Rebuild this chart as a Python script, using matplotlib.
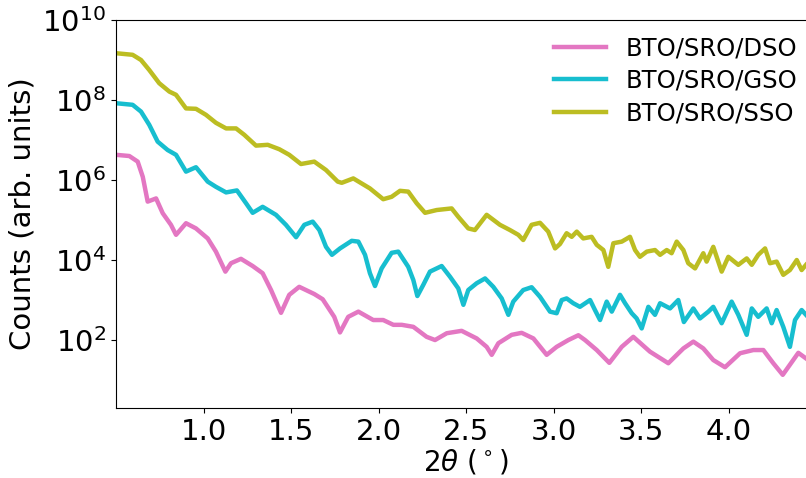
import matplotlib.pyplot as plt
import numpy as np

# 2theta (deg) and log10(counts) for each sample
x_dso = [0.500, 0.576, 0.624, 0.653, 0.681, 0.729, 0.767, 0.814, 0.843, 0.900, 0.957, 1.024,
         1.071, 1.125, 1.157, 1.214, 1.281, 1.338, 1.386, 1.443, 1.490, 1.547, 1.633, 1.681,
         1.747, 1.780, 1.827, 1.885, 1.970, 2.027, 2.085, 2.133, 2.199, 2.275, 2.323, 2.390,
         2.475, 2.561, 2.618, 2.647, 2.685, 2.761, 2.818, 2.885, 2.961, 3.018, 3.085, 3.142,
         3.180, 3.247, 3.319, 3.390, 3.456, 3.551, 3.656, 3.742, 3.799, 3.856, 3.913, 3.980,
         4.066, 4.142, 4.199, 4.256, 4.310, 4.399, 4.443]
e_dso = [6.63, 6.60, 6.46, 6.08, 5.46, 5.54, 5.17, 4.88, 4.63, 4.92, 4.79, 4.54,
         4.21, 3.71, 3.92, 4.03, 3.85, 3.67, 3.25, 2.68, 3.13, 3.33, 3.15, 3.02,
         2.58, 2.19, 2.58, 2.71, 2.50, 2.50, 2.38, 2.38, 2.33, 2.08, 2.00, 2.17,
         2.23, 2.04, 1.83, 1.63, 1.92, 2.13, 2.18, 2.04, 1.63, 1.83, 2.00, 2.12,
         2.00, 1.75, 1.43, 1.83, 2.08, 1.71, 1.42, 1.79, 1.96, 1.79, 1.50, 1.32,
         1.67, 1.75, 1.75, 1.42, 1.13, 1.68, 1.54]

x_gso = [0.500, 0.595, 0.643, 0.690, 0.738, 0.795, 0.843, 0.900, 0.957, 1.024, 1.071, 1.129,
         1.191, 1.243, 1.281, 1.338, 1.414, 1.471, 1.529, 1.576, 1.624, 1.662, 1.700, 1.734,
         1.780, 1.847, 1.885, 1.923, 1.951, 1.980, 2.018, 2.075, 2.113, 2.170, 2.199, 2.222,
         2.256, 2.294, 2.361, 2.409, 2.456, 2.485, 2.513, 2.561, 2.609, 2.656, 2.704, 2.742,
         2.770, 2.827, 2.875, 2.923, 2.980, 3.018, 3.047, 3.075, 3.113, 3.151, 3.209, 3.237,
         3.266, 3.304, 3.333, 3.380, 3.409, 3.447, 3.475, 3.504, 3.542, 3.580, 3.609, 3.666,
         3.713, 3.745, 3.799, 3.837, 3.885, 3.913, 3.961, 4.018, 4.056, 4.104, 4.133, 4.170,
         4.218, 4.247, 4.275, 4.313, 4.351, 4.380, 4.418, 4.443]
e_gso = [7.92, 7.88, 7.71, 7.38, 6.96, 6.75, 6.63, 6.21, 6.32, 5.96, 5.83, 5.69,
         5.74, 5.42, 5.18, 5.33, 5.13, 4.88, 4.57, 4.88, 4.96, 4.75, 4.33, 4.13,
         4.29, 4.48, 4.46, 4.13, 3.67, 3.35, 3.79, 4.18, 4.21, 3.83, 3.50, 3.10,
         3.38, 3.71, 3.85, 3.58, 3.29, 2.88, 3.25, 3.42, 3.54, 3.33, 3.04, 2.63,
         2.96, 3.25, 3.32, 3.08, 2.71, 2.67, 3.00, 3.04, 2.92, 2.83, 3.00, 2.75,
         2.50, 2.96, 2.71, 3.13, 2.92, 2.67, 2.54, 2.29, 2.83, 2.63, 2.92, 2.79,
         3.00, 2.45, 2.79, 2.54, 2.71, 2.83, 2.42, 2.96, 2.63, 2.13, 2.79, 2.58,
         2.79, 2.42, 2.75, 2.33, 1.83, 2.50, 2.75, 2.63]

x_sso = [0.500, 0.595, 0.643, 0.690, 0.747, 0.805, 0.843, 0.900, 0.957, 1.014, 1.071, 1.129,
         1.186, 1.233, 1.300, 1.367, 1.433, 1.490, 1.557, 1.633, 1.700, 1.767, 1.790, 1.856,
         1.951, 2.027, 2.075, 2.123, 2.170, 2.218, 2.266, 2.333, 2.418, 2.456, 2.513, 2.551,
         2.618, 2.694, 2.751, 2.799, 2.827, 2.875, 2.923, 2.970, 3.009, 3.037, 3.075, 3.104,
         3.133, 3.170, 3.218, 3.247, 3.285, 3.313, 3.342, 3.390, 3.437, 3.466, 3.494, 3.533,
         3.580, 3.609, 3.647, 3.675, 3.704, 3.742, 3.770, 3.809, 3.856, 3.875, 3.913, 3.961,
         3.999, 4.056, 4.104, 4.133, 4.170, 4.209, 4.237, 4.275, 4.313, 4.351, 4.390, 4.418,
         4.443]
e_sso = [9.17, 9.13, 9.00, 8.75, 8.42, 8.21, 8.13, 7.79, 7.78, 7.63, 7.43, 7.29,
         7.29, 7.13, 6.86, 6.88, 6.77, 6.63, 6.40, 6.46, 6.25, 5.96, 5.93, 6.04,
         5.79, 5.52, 5.58, 5.73, 5.71, 5.42, 5.18, 5.25, 5.29, 5.08, 4.79, 4.75,
         5.13, 4.88, 4.75, 4.63, 4.50, 4.88, 4.93, 4.71, 4.29, 4.40, 4.67, 4.58,
         4.71, 4.54, 4.58, 4.38, 4.25, 3.83, 4.42, 4.46, 4.58, 4.25, 4.08, 4.21,
         4.25, 4.13, 4.25, 4.17, 4.46, 4.25, 3.92, 3.79, 4.17, 3.96, 4.33, 3.71,
         4.08, 3.88, 4.04, 3.88, 4.13, 4.29, 3.92, 3.96, 3.63, 3.75, 4.00, 3.75,
         3.88]

labels = ['BTO/SRO/DSO', 'BTO/SRO/GSO', 'BTO/SRO/SSO']

fig = plt.figure(figsize=(8.06, 4.78), dpi=100)
ax = fig.add_axes([116/806, 70/478, 700/806, 388/478])

ax.plot(x_dso, 10 ** np.array(e_dso), color='tab:pink', lw=3.2, label=labels[0])
ax.plot(x_gso, 10 ** np.array(e_gso), color='tab:cyan', lw=3.2, label=labels[1])
ax.plot(x_sso, 10 ** np.array(e_sso), color='tab:olive', lw=3.2, label=labels[2])

ax.set_yscale('log')
ax.set_xlim(0.5, 4.5)
ax.set_ylim(2, 1e10)
ax.set_yticks([1e2, 1e4, 1e6, 1e8, 1e10])
ax.minorticks_off()
ax.set_xticks([1.0, 1.5, 2.0, 2.5, 3.0, 3.5, 4.0])
ax.tick_params(labelsize=21)
ax.set_xlabel(r'2$\theta$ ($^\circ$)', fontsize=20, labelpad=1)
ax.set_ylabel('Counts (arb. units)', fontsize=21)

ax.legend(loc='upper right', bbox_to_anchor=(1.005, 1.015), fontsize=17.5, frameon=False,
          handlelength=2.15, labelspacing=0.35)

fig.savefig('out.png', dpi=100)
